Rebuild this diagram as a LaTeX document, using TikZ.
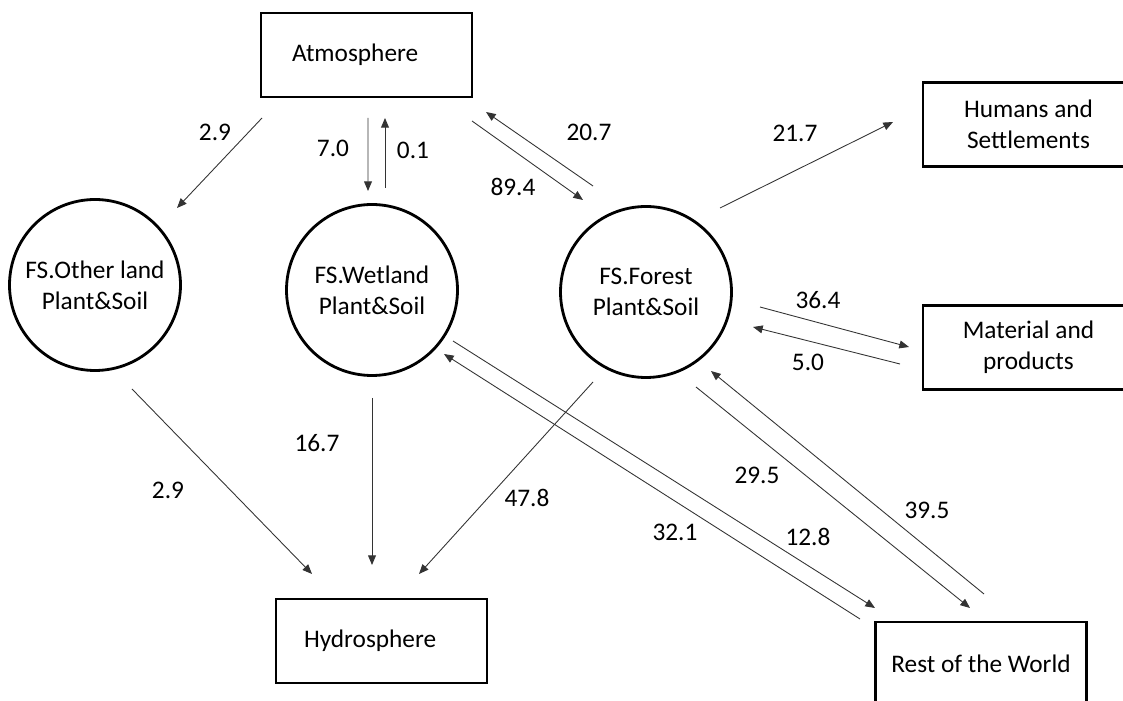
\documentclass[tikz,border=0pt]{standalone}
\usepackage{fontspec}
\setmainfont{Carlito}
\usetikzlibrary{calc,positioning,arrows.meta}

\tikzset{
  sector/.style={rectangle,draw=black,line width=1.6pt,minimum width=4.22cm,minimum height=1.68cm,inner sep=0pt,align=center},
  pool/.style={circle,draw=black,line width=1.6pt,minimum size=3.42cm,inner sep=0pt,align=center},
  flow/.style={arrows={-Triangle[length=5.5pt,width=4.5pt]},line width=0.5pt,black!80},
  val/.style={inner sep=0pt}
}

\begin{document}
\begin{tikzpicture}[font=\fontsize{14.4}{17.5}\selectfont]

\useasboundingbox (0,0) rectangle (22.46,14);
\coordinate (ORIGIN) at (0,0);

%%%%%%%%%%%%%%%%%%%%%

%draw boxes
\node[sector,text width=2.98cm,inner xsep=0.62cm,align=left] at ($(ORIGIN)+(7.33,12.90)$) (ATMO) {Atmosphere};
\node[sector,text width=3.10cm,inner xsep=0.56cm,align=left] at ($(ORIGIN)+(7.63,1.18)$) (HYDRO) {Hydrosphere};
\node[sector] at ($(ORIGIN)+(20.57,11.51)$) (HUMANS) {Humans and\\Settlements};
\node[sector] at ($(ORIGIN)+(20.57,7.05)$) (MATERIAL) {Material and\\products};
\node[sector] at ($(ORIGIN)+(19.62,0.72)$) (ROW) {Rest of the World};

%draw plant and soil pools
\node[pool] at ($(ORIGIN)+(1.90,8.30)$) (OTHER) {FS.Other land\\Plant\&Soil};
\node[pool] at ($(ORIGIN)+(7.44,8.20)$) (WETLAND) {FS.Wetland\\Plant\&Soil};
\node[pool] at ($(ORIGIN)+(12.92,8.16)$) (FOREST) {FS.Forest\\Plant\&Soil};

%%%%%%%%%%%%%%%%%%%%%

%draw flows with atmosphere
\draw[flow] ($(ATMO)+(-2.09,-1.26)$) -- ($(OTHER)+(1.64,1.54)$);
\draw[flow] ($(ATMO)+(0.03,-1.26)$) -- ($(WETLAND)+(-0.08,1.98)$);
\draw[flow] ($(WETLAND)+(0.26,2.04)$) -- ($(ATMO)+(0.37,-1.26)$);
\draw[flow] ($(ATMO)+(2.11,-1.32)$) -- ($(FOREST)+(-1.26,1.84)$);
\draw[flow] ($(FOREST)+(-1.06,2.12)$) -- ($(ATMO)+(2.39,-1.14)$);

\node[val] at ($(ORIGIN)+(4.30,11.36)$) (V1) {2.9};
\node[val] at ($(ORIGIN)+(6.66,11.04)$) (V2) {7.0};
\node[val] at ($(ORIGIN)+(8.26,11.00)$) (V3) {0.1};
\node[val] at ($(ORIGIN)+(10.26,10.26)$) (V4) {89.4};
\node[val] at ($(ORIGIN)+(11.78,11.36)$) (V5) {20.7};

%draw flows with humans and material
\draw[flow] ($(FOREST)+(1.48,1.68)$) -- ($(HUMANS)+(-2.71,0.05)$);
\draw[flow] ($(FOREST)+(2.28,-0.30)$) -- ($(MATERIAL)+(-2.39,0.01)$);
\draw[flow] ($(MATERIAL)+(-2.57,-0.33)$) -- ($(FOREST)+(2.14,-0.70)$);

\node[val] at ($(ORIGIN)+(15.90,11.34)$) (V6) {21.7};
\node[val] at ($(ORIGIN)+(16.36,8.00)$) (V7) {36.4};
\node[val] at ($(ORIGIN)+(16.16,6.76)$) (V8) {5.0};

%draw flows to hydrosphere
\draw[flow] ($(OTHER)+(0.74,-2.08)$) -- ($(HYDRO)+(-1.39,1.34)$);
\draw[flow] ($(WETLAND)+(0,-2.16)$) -- ($(HYDRO)+(-0.19,1.52)$);
\draw[flow] ($(FOREST)+(-1.06,-1.80)$) -- ($(HYDRO)+(0.75,1.34)$);

\node[val] at ($(ORIGIN)+(3.36,4.20)$) (V9) {2.9};
\node[val] at ($(ORIGIN)+(6.34,5.14)$) (V10) {16.7};
\node[val] at ($(ORIGIN)+(10.54,4.04)$) (V11) {47.8};

%draw flows with rest of the world
\draw[flow] ($(WETLAND)+(1.62,-1.02)$) -- ($(ROW)+(-2.12,1.12)$);
\draw[flow] ($(ROW)+(-2.42,0.90)$) -- ($(WETLAND)+(1.44,-1.28)$);
\draw[flow] ($(FOREST)+(1.00,-1.90)$) -- ($(ROW)+(-0.22,1.12)$);
\draw[flow] ($(ROW)+(0.06,1.40)$) -- ($(FOREST)+(1.30,-1.58)$);

\node[val] at ($(ORIGIN)+(16.16,3.26)$) (V12) {12.8};
\node[val] at ($(ORIGIN)+(13.50,3.36)$) (V13) {32.1};
\node[val] at ($(ORIGIN)+(15.14,4.50)$) (V14) {29.5};
\node[val] at ($(ORIGIN)+(18.54,3.80)$) (V15) {39.5};

%%%%%%%%%%%%%%%%%%%%%%

\end{tikzpicture}
\end{document}
